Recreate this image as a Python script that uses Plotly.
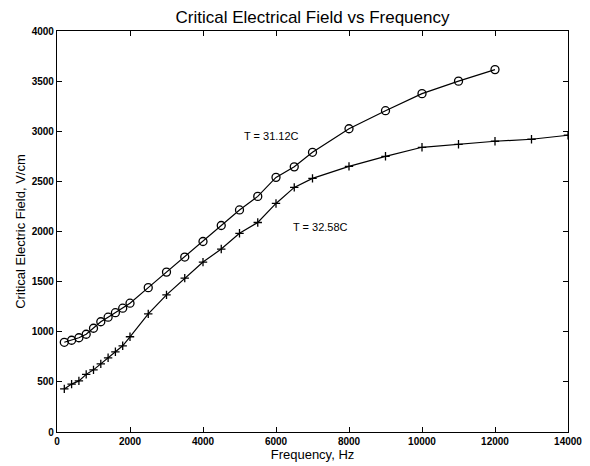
import plotly.graph_objects as go

freq_a = [200, 400, 600, 800, 1000, 1200, 1400, 1600, 1800, 2000, 2500, 3000, 3500, 4000,
          4500, 5000, 5500, 6000, 6500, 7000, 8000, 9000, 10000, 11000, 12000]
field_a = [895, 915, 940, 975, 1035, 1100, 1145, 1190, 1235, 1285, 1440, 1595, 1745, 1900,
           2060, 2215, 2350, 2540, 2645, 2790, 3025, 3205, 3375, 3500, 3615]

freq_b = [200, 400, 600, 800, 1000, 1200, 1400, 1600, 1800, 2000, 2500, 3000, 3500, 4000,
          4500, 5000, 5500, 6000, 6500, 7000, 8000, 9000, 10000, 11000, 12000, 13000, 14000]
field_b = [430, 478, 510, 575, 620, 680, 740, 800, 860, 950, 1178, 1368, 1535, 1695,
           1825, 1982, 2090, 2280, 2440, 2530, 2650, 2750, 2840, 2870, 2900, 2920, 2960]

label_a = "T = 31.12C"
label_b = "T = 32.58C"
x_ticks = [0, 2000, 4000, 6000, 8000, 10000, 12000, 14000]
x_ticktext = ["0", "2000", "4000", "6000", "8000", "10000", "12000", "14000"]
y_ticks = [0, 500, 1000, 1500, 2000, 2500, 3000, 3500, 4000]
y_ticktext = ["0", "500", "1000", "1500", "2000", "2500", "3000", "3500", "4000"]

FONT = "Liberation Sans, Arial, Helvetica"

fig = go.Figure()
fig.add_trace(go.Scatter(
    x=freq_a, y=field_a, mode="lines+markers",
    line=dict(color="black", width=1.2),
    marker=dict(symbol="circle-open", size=8, color="black", line=dict(width=1.3)),
    showlegend=False))
fig.add_trace(go.Scatter(
    x=freq_b, y=field_b, mode="lines+markers",
    line=dict(color="black", width=1.2),
    marker=dict(symbol="cross-thin", size=6, color="black", line=dict(width=1.3, color="black")),
    showlegend=False))

fig.add_annotation(x=5890, y=2955, text=label_a, showarrow=False,
                   font=dict(family=FONT, size=11, color="black"))
fig.add_annotation(x=7230, y=2045, text=label_b, showarrow=False,
                   font=dict(family=FONT, size=11, color="black"))

axis_common = dict(showgrid=False, zeroline=False, showline=True, linecolor="black",
                   linewidth=1.2, mirror="ticks", ticks="inside", ticklen=5,
                   tickcolor="black", tickwidth=1, automargin=False,
                   tickfont=dict(family=FONT, size=10, color="black", weight="bold"))

fig.update_layout(
    width=582, height=458,
    margin=dict(l=49, r=22, t=23, b=34),
    paper_bgcolor="white", plot_bgcolor="white",
    title=dict(text="Critical Electrical Field vs Frequency", x=0.5, xanchor="center",
               xref="paper", yref="container", y=1, yanchor="top",
               pad=dict(t=3, b=0),
               font=dict(family=FONT, size=17, color="black")),
    xaxis=dict(range=[0, 14000], tickvals=x_ticks, ticktext=x_ticktext,
               title=dict(text="Frequency, Hz", standoff=2,
                          font=dict(family=FONT, size=13, color="black")),
               **axis_common),
    yaxis=dict(range=[0, 4000], tickvals=y_ticks, ticktext=y_ticktext,
               title=dict(text="Critical Electric Field, V/cm", standoff=3,
                          font=dict(family=FONT, size=13, color="black")),
               **axis_common),
)

fig.write_html("out.html")
